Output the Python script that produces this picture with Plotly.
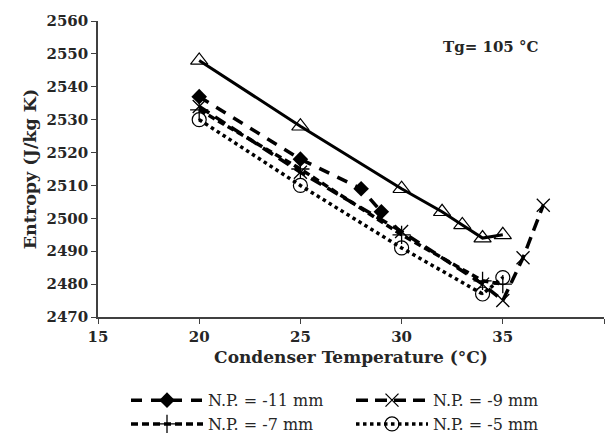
import plotly.graph_objects as go

# Data
x_tri = [20, 25, 30, 32, 33, 34, 35]
y_tri = [2548, 2528, 2509, 2502, 2498, 2494, 2495]

x_m11 = [20, 25, 28, 29]
y_m11 = [2537, 2518, 2509, 2502]

x_m9 = [20, 25, 30, 34, 35, 36, 37]
y_m9 = [2534, 2514, 2496, 2480, 2475, 2488, 2504]

x_m7 = [20, 25, 30, 34, 35]
y_m7 = [2533, 2515, 2495, 2481, 2480]

x_m5 = [20, 25, 30, 34, 35]
y_m5 = [2530, 2510, 2491, 2477, 2482]

x_ticks = [15, 20, 25, 30, 35, 40]
y_ticks = [2470, 2480, 2490, 2500, 2510, 2520, 2530, 2540, 2550, 2560]

SERIF = "DejaVu Serif"

fig = go.Figure()

fig.add_trace(go.Scatter(
    x=x_tri, y=y_tri, mode="lines+markers", name="N.P. = -3 mm", showlegend=False,
    line=dict(color="black", width=3),
    marker=dict(symbol="triangle-up-open", size=15, color="black", line=dict(width=1.2)),
))
fig.add_trace(go.Scatter(
    x=x_m11, y=y_m11, mode="lines+markers", name="N.P. = -11 mm",
    line=dict(color="black", width=3.5, dash="11px,9px"),
    marker=dict(symbol="diamond", size=12, color="black"),
))
fig.add_trace(go.Scatter(
    x=x_m9, y=y_m9, mode="lines+markers", name="N.P. = -9 mm",
    line=dict(color="black", width=3.5, dash="12px,7px"),
    marker=dict(symbol="x-thin-open", size=13, color="black", line=dict(width=1.3, color="black")),
))
fig.add_trace(go.Scatter(
    x=x_m7, y=y_m7, mode="lines+markers", name="N.P. = -7 mm",
    line=dict(color="black", width=3.5, dash="7px,4px"),
    marker=dict(symbol="cross-thin-open", size=13, color="black", line=dict(width=1.3, color="black")),
))
fig.add_trace(go.Scatter(
    x=x_m5, y=y_m5, mode="lines+markers", name="N.P. = -5 mm",
    line=dict(color="black", width=3.5, dash="dot"),
    marker=dict(symbol="circle-open-dot", size=14, color="black", line=dict(width=1.2, color="black")),
))

axis_common = dict(
    showline=True, linecolor="#404040", linewidth=1.5,
    ticks="outside", ticklen=5, tickcolor="#404040", tickwidth=1.2,
    showgrid=False, zeroline=False,
    tickfont=dict(family=SERIF, size=15, color="#262626", weight="bold"),
)

fig.update_xaxes(
    range=[15, 40], tickvals=x_ticks, ticktext=[str(v) for v in x_ticks],
    title=dict(text="<b>Condenser Temperature (°C)</b>",
               font=dict(family=SERIF, size=17, color="#262626"), standoff=6),
    **axis_common,
)
fig.update_yaxes(
    range=[2470, 2560], tickvals=y_ticks, ticktext=[str(v) for v in y_ticks],
    title=dict(text="<b>Entropy (J/kg K)</b>",
               font=dict(family=SERIF, size=17.5, color="#262626"), standoff=5),
    **axis_common,
)

fig.add_annotation(
    x=34.4, y=2552, xref="x", yref="y", text="<b>Tg= 105 °C</b>", showarrow=False,
    font=dict(family=SERIF, size=15, color="#262626"), xanchor="center", yanchor="middle",
)

fig.update_layout(
    width=614, height=438,
    margin=dict(l=98, r=10, t=21, b=121, autoexpand=False),
    plot_bgcolor="white", paper_bgcolor="white",
    legend=dict(
        orientation="h", x=0.5, xanchor="center",
        yref="container", y=0.125, yanchor="top",
        entrywidth=138, entrywidthmode="pixels", itemwidth=72,
        font=dict(family=SERIF, size=16, color="#262626"),
        tracegroupgap=0,
    ),
)

fig.write_html("out.html")
